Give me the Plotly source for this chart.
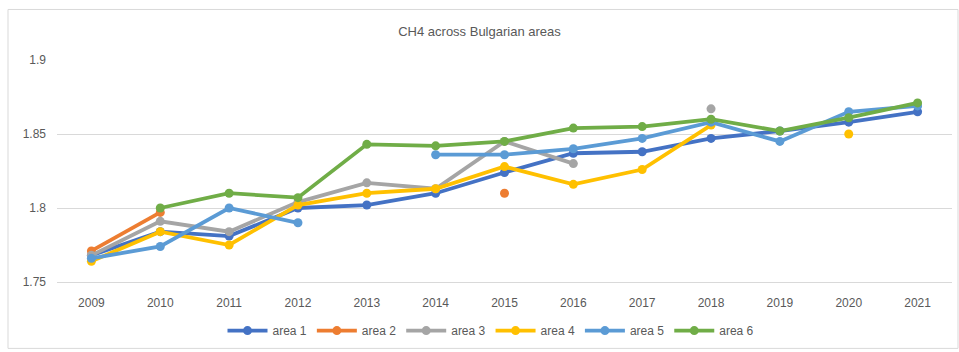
import plotly.graph_objects as go

years = ["2009", "2010", "2011", "2012", "2013", "2014", "2015",
         "2016", "2017", "2018", "2019", "2020", "2021"]

area1 = [1.768, 1.784, 1.781, 1.800, 1.802, 1.810, 1.824, 1.837, 1.838, 1.847, 1.852, 1.858, 1.865]
area2 = [1.771, 1.797, None, None, None, None, 1.810, None, None, None, None, None, None]
area3 = [1.768, 1.791, 1.784, 1.804, 1.817, 1.813, 1.845, 1.830, None, 1.867, None, None, None]
area4 = [1.764, 1.784, 1.775, 1.802, 1.810, 1.813, 1.828, 1.816, 1.826, 1.856, None, 1.850, None]
area5 = [1.766, 1.774, 1.800, 1.790, None, 1.836, 1.836, 1.840, 1.847, 1.858, 1.845, 1.865, 1.869]
area6 = [None, 1.800, 1.810, 1.807, 1.843, 1.842, 1.845, 1.854, 1.855, 1.860, 1.852, 1.861, 1.871]

names = ["area 1", "area 2", "area 3", "area 4", "area 5", "area 6"]
series = [area1, area2, area3, area4, area5, area6]
colors = ["#4472C4", "#ED7D31", "#A5A5A5", "#FFC000", "#5B9BD5", "#70AD47"]

fig = go.Figure()
for n, s, c in zip(names, series, colors):
    fig.add_trace(go.Scatter(
        x=years, y=s, name=n, mode="lines+markers",
        line=dict(color=c, width=3.8),
        marker=dict(color=c, size=9),
        connectgaps=False,
    ))

W, H = 959, 352
L, R, T, B = 57, 7, 60, 68
pw, ph = W - L - R, H - T - B

fig.update_layout(
    width=W, height=H,
    margin=dict(l=L, r=R, t=T, b=B),
    paper_bgcolor="white", plot_bgcolor="white",
    font=dict(family="Liberation Sans, Arial, sans-serif", size=12, color="#595959"),
    title=dict(text="CH4 across Bulgarian areas", x=0.5, xanchor="center",
               y=1 - 31 / H, yanchor="middle",
               font=dict(size=13, color="#595959")),
    showlegend=True,
    legend=dict(orientation="h", x=(491 - L) / pw, xanchor="center",
                y=-(333 - 284) / ph, yanchor="middle",
                font=dict(size=12, color="#595959"), itemwidth=40),
    xaxis=dict(type="category", range=[-0.5, 12.5], showgrid=False,
               showline=True, linecolor="#d9d9d9", linewidth=1,
               ticks="", tickfont=dict(size=12, color="#595959"),
               ticklabelstandoff=10),
    yaxis=dict(range=[1.75, 1.9], dtick=0.05, tick0=1.75, showgrid=True,
               gridcolor="#d9d9d9", gridwidth=1, zeroline=False,
               showline=False, ticks="", tickfont=dict(size=12, color="#595959"),
               ticklabelstandoff=10),
    shapes=[dict(type="rect", xref="paper", yref="paper",
                 x0=(8 - L) / pw, x1=(958 - L) / pw,
                 y0=(284 - 351) / ph, y1=(284 - 9) / ph,
                 line=dict(color="#d9d9d9", width=1), layer="below")],
)

fig.write_html("out.html")
